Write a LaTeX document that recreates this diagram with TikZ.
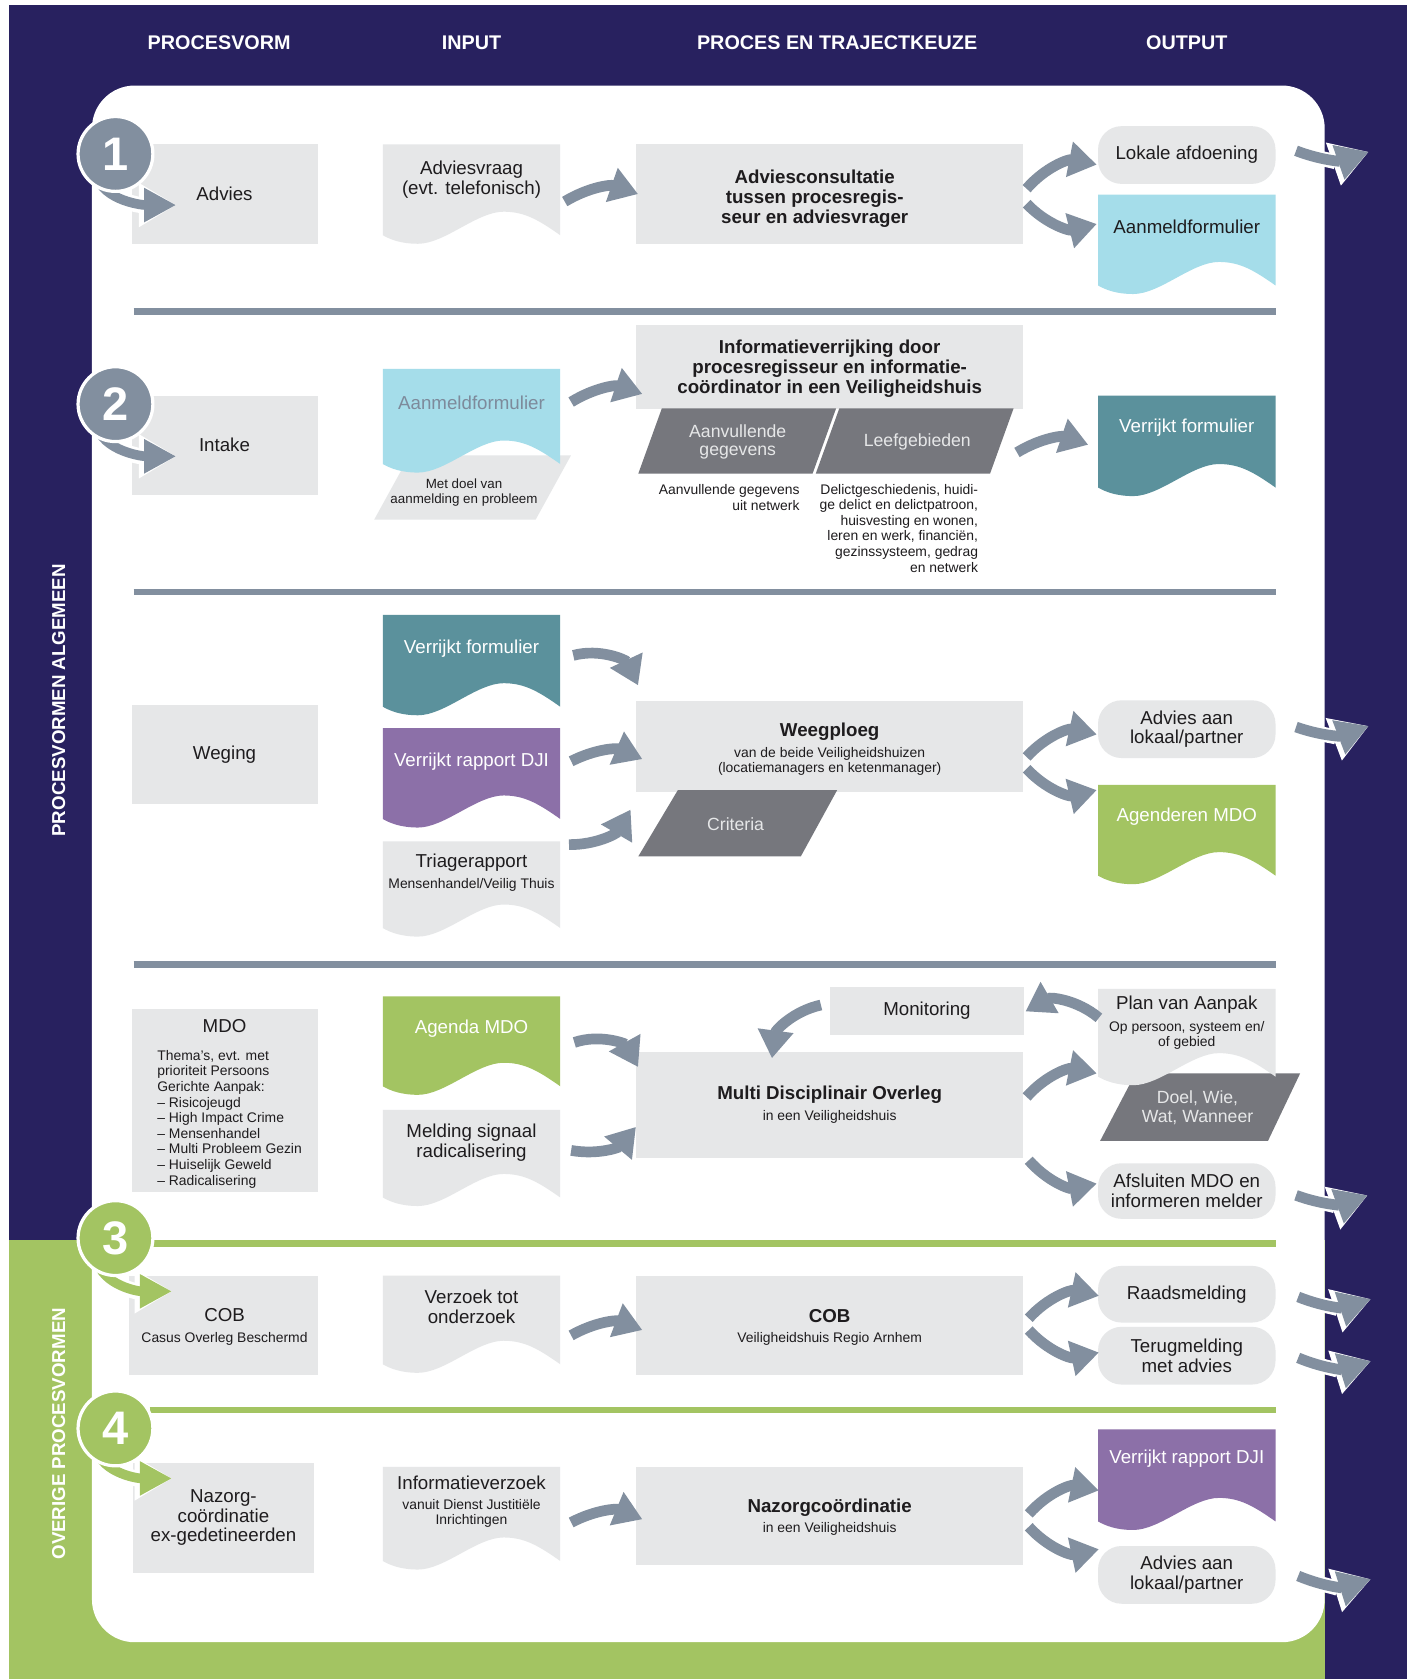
\documentclass[tikz,border=0pt]{standalone}
\usepackage{fontspec}
\setmainfont{Liberation Sans}
\usetikzlibrary{arrows.meta,calc}
\definecolor{navy}{RGB}{40,33,95}
\definecolor{lgreen}{RGB}{163,196,98}
\definecolor{boxgray}{RGB}{230,231,232}
\definecolor{slate}{RGB}{130,143,159}
\definecolor{dgray}{RGB}{118,119,125}
\definecolor{lblue}{RGB}{165,221,234}
\definecolor{tealc}{RGB}{91,145,156}
\definecolor{purp}{RGB}{140,112,168}
\definecolor{txtc}{RGB}{30,28,30}
\definecolor{bluetxt}{RGB}{125,138,155}
\newcommand{\docnode}[5]{%
  \fill[#5] ({#2-83},#3) -- ({#2+83},#3) -- ({#2+83},#4)
    .. controls ({#2+63},{#4-14}) and ({#2+50},{#4-22}) .. ({#2+30},{#4-22})
    .. controls ({#2+5},{#4-22}) and ({#2-25},{#4+8}) .. ({#2-50},{#4+8})
    .. controls ({#2-66},{#4+8}) and ({#2-76},{#4+4}) .. ({#2-83},#4) -- cycle;
  \node[inner sep=0pt, minimum width=166pt, minimum height={(#4-#3)*1pt}] (#1) at (#2,{(#3+#4)/2}) {};
}
\tikzset{
  box/.style={fill=boxgray, inner sep=0pt, minimum height=93pt},
  rbox/.style={fill=boxgray, rounded corners=22pt, inner sep=0pt, minimum width=166pt, minimum height=54pt},
  lbl/.style={text=txtc, align=center, inner sep=0pt, font=\fontsize{17.5}{18.5}\selectfont},
  sh/.style={yshift=-2pt},
  lblb/.style={text=txtc, align=center, inner sep=0pt, yshift=-3pt, font=\bfseries\fontsize{17.5}{19}\selectfont},
  lbls/.style={text=txtc, align=center, inner sep=0pt, yshift=-2pt, font=\fontsize{13}{14.6}\selectfont},
  lblw/.style={lbl, sh, text=white},
  lblp/.style={text=boxgray, align=center, inner sep=0pt, yshift=-1pt, font=\fontsize{16.5}{17}\selectfont},
  head/.style={text=white, inner sep=0pt, font=\bfseries\fontsize{18.5}{20}\selectfont},
  vlab/.style={text=white, inner sep=0pt, font=\bfseries\fontsize{17.5}{20}\selectfont},
  sepl/.style={draw=slate, line width=6pt},
  gsepl/.style={draw=lgreen, line width=6pt},
  bigarr/.style={draw=slate, line width=10pt, -{Triangle[length=26pt,width=32pt]}},
  exitarr/.style={draw=slate, line width=10pt, -{Triangle[length=30pt,width=32pt]},
     preaction={draw=white, line width=14pt, -{Triangle[length=35pt,width=40pt]}}},
  numtail/.style={draw=#1, line width=9pt, -{Triangle[length=30pt,width=30pt]},
     preaction={draw=white, line width=15pt, -{Triangle[length=35pt,width=39pt]}}},
  numc/.style={circle, fill=#1, draw=white, line width=3pt, minimum size=70pt, inner sep=0pt,
     text=white, font=\bfseries\fontsize{44}{44}\selectfont}
}
\begin{document}
\begin{tikzpicture}[x=1pt,y=-1pt]
\useasboundingbox (0,0) rectangle (1316,1570.4);
% background
\fill[white] (0,0) rectangle (1316,1570.4);
\fill[navy] (8,5) rectangle (1316,1570.4);
\fill[lgreen] (8,1160) rectangle (1239,1570.4);
\fill[white, rounded corners=40pt] (86,80) rectangle (1239,1536);
% headers
\node[head] (h1) at (205,40) {PROCESVORM};
\node[head] (h2) at (441,40) {INPUT};
\node[head] (h3) at (783,40) {PROCES EN TRAJECTKEUZE};
\node[head] (h4) at (1110,40) {OUTPUT};
\node[vlab, rotate=90] (v1) at (55,655) {PROCESVORMEN ALGEMEEN};
\node[vlab, rotate=90] (v2) at (55,1341) {OVERIGE PROCESVORMEN};
% separators
\draw[sepl] (125,291.5) -- (1193,291.5);
\draw[sepl] (125,553.5) -- (1193,553.5);
\draw[sepl] (125,902) -- (1193,902);
\draw[gsepl] (140,1163) -- (1193,1163);
\draw[gsepl] (140,1319) -- (1193,1319);

% ---------- Row 1
\node[box, lbl, minimum width=174pt] (pv1) at (210,181.5) {Advies};
\docnode{advq}{441}{135}{220}{boxgray}
\node[lbl, sh] (advqt) at (441,166) {Adviesvraag\\(evt. telefonisch)};
\node[box, minimum width=362pt] (advc) at (776,181.5) {};
\node[lblb] (advct) at (762,183) {Adviesconsultatie\\tussen procesregis-\\seur en adviesvrager};
\node[rbox, lbl] (lok) at (1110,145) {Lokale afdoening};
\docnode{aanm1}{1110}{182}{267}{lblue}
\node[lbl, sh] (aanm1t) at (1110,210) {Aanmeldformulier};

% ---------- Row 2
\node[box, lbl, minimum width=174pt] (pv2) at (210,416.5) {Intake};
\fill[boxgray] (350,486) -- (501,486) -- (534,426) -- (383,426) -- cycle;
\docnode{ab}{441}{345}{434}{lblue}
\node[lbl, sh, text=bluetxt] (abt) at (441,375) {Aanmeldformulier};
\node[lbls, font=\fontsize{12.5}{14}\selectfont] (mdv) at (434,459) {Met doel van\\aanmelding en probleem};
\node[box, minimum width=362pt, minimum height=79pt] (info) at (776,343.5) {};
\node[lblb] (infot) at (776,342) {Informatieverrijking door\\procesregisseur en informatie-\\coördinator in een Veiligheidshuis};
\fill[dgray] (597,443) -- (760,443) -- (782,382) -- (619,382) -- cycle;
\fill[dgray] (763,443) -- (926,443) -- (948,382) -- (785,382) -- cycle;
\node[lblp] (p1t) at (690,412) {Aanvullende\\gegevens};
\node[lblp] (p2t) at (858,412) {Leefgebieden};
\node[lbls, align=right, anchor=east] (d1) at (748,463.5) {Aanvullende gegevens\\uit netwerk};
\node[lbls, align=right, anchor=east] (d2) at (915,492) {Delictgeschiedenis, huidi-\\ge delict en delictpatroon,\\huisvesting en wonen,\\leren en werk, financiën,\\gezinssysteem, gedrag\\en netwerk};
\docnode{vf1}{1110}{370}{456}{tealc}
\node[lblw] (vf1t) at (1110,398) {Verrijkt formulier};

% ---------- Row 3
\node[box, lbl, minimum width=174pt] (pv3) at (210,705.5) {Weging};
\docnode{vf2}{441}{575}{661}{tealc}
\node[lblw] (vf2t) at (441,605) {Verrijkt formulier};
\docnode{dji1}{441}{681}{766}{purp}
\node[lblw] (dji1t) at (441,710) {Verrijkt rapport DJI};
\docnode{tri}{441}{787}{868}{boxgray}
\node[lbl, sh] (trit) at (441,805) {Triagerapport};
\node[lbls] (tris) at (441,826) {Mensenhandel/Veilig Thuis};
\node[box, minimum width=362pt, minimum height=85pt] (weeg) at (776,698.5) {};
\node[lblb] (weegt) at (776,681) {Weegploeg};
\node[lbls, font=\fontsize{13}{14}\selectfont] (weegs) at (776,710) {van de beide Veiligheidshuizen\\(locatiemanagers en ketenmanager)};
\fill[dgray] (597,801) -- (749,801) -- (783,739) -- (634,739) -- cycle;
\node[lblp] (critt) at (688,770) {Criteria};
\node[rbox, lbl] (adv2) at (1110,682) {Advies aan\\lokaal/partner};
\docnode{agm}{1110}{734}{819}{lgreen}
\node[lblw] (agmt) at (1110,762) {Agenderen MDO};

% ---------- Row 4
\node[box, minimum width=174pt, minimum height=171pt] (pv4) at (210,1029.5) {};
\node[lbl, sh] (pv4t) at (210,958) {MDO};
\node[lbls, align=left, anchor=north west] (pv4l) at (147,980) {Thema’s, evt. met\\prioriteit Persoons\\Gerichte Aanpak:\\– Risicojeugd\\– High Impact Crime\\– Mensenhandel\\– Multi Probleem Gezin\\– Huiselijk Geweld\\– Radicalisering};
\docnode{agd}{441}{932}{1016}{lgreen}
\node[lblw] (agdt) at (441,960) {Agenda MDO};
\docnode{mel}{441}{1038}{1120}{boxgray}
\node[lbl, sh] (melt) at (441,1067) {Melding signaal\\radicalisering};
\node[box, minimum width=362pt, minimum height=99pt] (mdo2) at (776,1033.5) {};
\node[lblb] (mdo2t) at (776,1021) {Multi Disciplinair Overleg};
\node[lbls] (mdo2s) at (776,1043) {in een Veiligheidshuis};
\node[box, lbl, minimum width=182pt, minimum height=45pt] (mon) at (867,945.5) {Monitoring};
\fill[dgray] (1029,1067) -- (1186,1067) -- (1216,1004) -- (1062,1004) -- cycle;
\docnode{pva}{1110}{925}{1007}{boxgray}
\node[lbl, sh] (pvat) at (1110,938) {Plan van Aanpak};
\node[lbls, font=\fontsize{13}{13.5}\selectfont] (pvas) at (1110,966.5) {Op persoon, systeem en/\\of gebied};
\node[lblp] (dwwt) at (1120,1035) {Doel, Wie,\\Wat, Wanneer};
\node[rbox, lbl, minimum height=52pt] (afs) at (1110,1114) {Afsluiten MDO en\\informeren melder};

% ---------- Row 5
\node[box, minimum width=176pt] (pv5) at (209,1239.5) {};
\node[lbl, sh] (pv5t) at (210,1228) {COB};
\node[lbls] (pv5s) at (210,1250) {Casus Overleg Beschermd};
\docnode{voo}{441}{1193}{1276}{boxgray}
\node[lbl, sh] (voot) at (441,1220) {Verzoek tot\\onderzoek};
\node[box, minimum width=362pt] (cob2) at (776,1239.5) {};
\node[lblb] (cob2t) at (776,1228) {COB};
\node[lbls] (cob2s) at (776,1250) {Veiligheidshuis Regio Arnhem};
\node[rbox, lbl, minimum height=53pt] (raad) at (1110,1210.5) {Raadsmelding};
\node[rbox, lbl] (teru) at (1110,1268) {Terugmelding\\met advies};

% ---------- Row 6
\node[box, lbl, minimum width=170pt, minimum height=103pt] (pv6) at (209,1419.5) {Nazorg-\\coördinatie\\ex-gedetineerden};
\docnode{inf}{441}{1372}{1460}{boxgray}
\node[lbl, sh] (inft) at (441,1385) {Informatieverzoek};
\node[lbls] (infs) at (441,1413.5) {vanuit Dienst Justitiële\\Inrichtingen};
\node[box, minimum width=362pt, minimum height=92pt] (naz2) at (776,1418) {};
\node[lblb] (naz2t) at (776,1407) {Nazorgcoördinatie};
\node[lbls] (naz2s) at (776,1428) {in een Veiligheidshuis};
\docnode{djo}{1110}{1337}{1423}{purp}
\node[lblw] (djot) at (1110,1362) {Verrijkt rapport DJI};
\node[rbox, lbl] (adv3) at (1110,1473) {Advies aan\\lokaal/partner};

% ---------- exit coordinates
\coordinate (x1) at ($(lok.east)+(87,-3)$);
\coordinate (x3) at ($(adv2.east)+(87,-3)$);
\coordinate (x4) at ($(afs.east)+(86,4)$);
\coordinate (x5) at ($(raad.east)+(89,4.5)$);
\coordinate (x6) at ($(teru.east)+(89,5)$);
\coordinate (x7) at ($(adv3.east)+(89,4)$);

% ---------- arrows
\draw[bigarr] ($(advq.east)+(4,11)$) to[bend left=25] ($(advc.west)+(2,0)$);
\draw[bigarr] ($(advc.east)+(3,-5)$) to[bend left=30] ($(lok.west)+(-1,9)$);
\draw[bigarr] ($(advc.east)+(3,9)$) to[bend right=30] ($(aanm1.west)+(-1,-15)$);
\draw[exitarr] ($(lok.east)+(19,-4)$) to[bend right=20] (x1);

\draw[bigarr] ($(ab.east)+(10,-13.5)$) to[bend left=25] ($(info.west)+(6,25)$);
\draw[bigarr] ($(info.south east)+(-6,40)$) to[bend left=25] ($(vf1.west)+(-9,3)$);

\draw[bigarr] ($(vf2.east)+(12,-5)$) to[bend left=40] ($(weeg.west)+(2,-57.5)$);
\draw[bigarr] ($(dji1.east)+(10,-11.5)$) to[bend left=25] ($(weeg.west)+(6,11.5)$);
\draw[bigarr] ($(tri.east)+(8,-37.5)$) to[bend right=30] ($(weeg.south west)+(-5,16)$);
\draw[bigarr] ($(weeg.east)+(3,9.5)$) to[bend left=30] ($(adv2.west)+(-1,5)$);
\draw[bigarr] ($(weeg.east)+(3,20.5)$) to[bend right=30] ($(agm.west)+(-1,-37.5)$);
\draw[exitarr] ($(adv2.east)+(19,-2)$) to[bend right=20] (x3);

\draw[bigarr] ($(agd.east)+(13,1)$) to[bend left=40] ($(mdo2.west)+(2,-35.5)$);
\draw[bigarr] ($(mel.east)+(10,-3)$) to[bend right=30] ($(mdo2.west)+(0,20.5)$);
\draw[bigarr] ($(mon.west)+(-8,-5.5)$) to[bend right=35] ($(mdo2.north)+(-54,6)$);
\draw[bigarr] ($(pva.west)+(1,-14)$) to[bend right=35] ($(mon.east)+(1,0.5)$);
\draw[bigarr] ($(mdo2.east)+(3,-7.5)$) to[bend left=30] ($(pva.west)+(-1,38)$);
\draw[bigarr] ($(mdo2.south east)+(5,2)$) to[bend right=30] ($(afs.west)+(-1,-7)$);
\draw[exitarr] ($(afs.east)+(19,4)$) to[bend right=20] (x4);

\draw[bigarr] ($(voo.east)+(10,14.5)$) to[bend left=25] ($(cob2.west)+(6,4.5)$);
\draw[bigarr] ($(cob2.east)+(5,-6.5)$) to[bend left=30] ($(raad.west)+(1,1.5)$);
\draw[bigarr] ($(cob2.east)+(5,4.5)$) to[bend right=30] ($(teru.west)+(1,-3)$);
\draw[exitarr] ($(raad.east)+(21,2.5)$) to[bend right=20] (x5);
\draw[exitarr] ($(teru.east)+(21,2)$) to[bend right=20] (x6);

\draw[bigarr] ($(inf.east)+(10,8)$) to[bend left=25] ($(naz2.west)+(6,3)$);
\draw[bigarr] ($(naz2.east)+(5,-2)$) to[bend left=30] ($(djo.west)+(1,14)$);
\draw[bigarr] ($(naz2.east)+(5,10)$) to[bend right=30] ($(adv3.west)+(1,-24)$);
\draw[exitarr] ($(adv3.east)+(21,1)$) to[bend right=20] (x7);

% ---------- number circles
\coordinate (c1) at (108,144);
\coordinate (c2) at (108,378);
\coordinate (c3) at (108,1158);
\coordinate (c4) at (108,1336);
\draw[numtail=slate] ($(c1)+(-18,14)$) .. controls ($(c1)+(-18,42)$) and ($(pv1.north west)+(8,57)$) .. ($(pv1.north west)+(42,57)$);
\draw[numtail=slate] ($(c2)+(-18,14)$) .. controls ($(c2)+(-18,42)$) and ($(pv2.north west)+(8,57)$) .. ($(pv2.north west)+(42,57)$);
\draw[numtail=lgreen] ($(c3)+(-18,14)$) .. controls ($(c3)+(-18,42)$) and ($(pv5.north west)+(6,15)$) .. ($(pv5.north west)+(40,15)$);
\draw[numtail=lgreen] ($(c4)+(-18,14)$) .. controls ($(c4)+(-18,40)$) and ($(pv6.north west)+(3,15)$) .. ($(pv6.north west)+(37,15)$);
\node[numc=slate] (n1) at (c1) {1};
\node[numc=slate] (n2) at (c2) {2};
\node[numc=lgreen] (n3) at (c3) {3};
\node[numc=lgreen] (n4) at (c4) {4};
\end{tikzpicture}
\end{document}
